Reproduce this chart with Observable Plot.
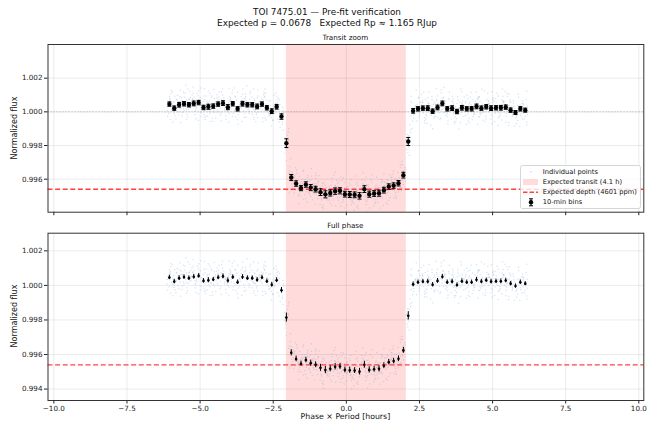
<!DOCTYPE html>
<html><head><meta charset="utf-8">
<script src="https://cdn.jsdelivr.net/npm/d3@7"></script>
<script src="https://cdn.jsdelivr.net/npm/@observablehq/plot@0.6"></script>
<style>
body{margin:0;background:#fff;}
#wrap{position:relative;width:654px;height:421px;overflow:hidden;background:#fff;}
#wrap > svg{position:absolute;left:0;}
</style></head><body><div id="wrap"></div>
<script>
// ---- data ----
const titleLine1 = "TOI 7475.01 — Pre-fit verification";
const titleLine2 = "Expected p = 0.0678   Expected Rp ≈ 1.165 RJup";
const panelTitles = ["Transit zoom", "Full phase"];
const yLabel = "Normalized flux";
const xLabel = "Phase × Period [hours]";
const legendLabels = ["Individual points", "Expected transit (4.1 h)", "Expected depth (4601 ppm)", "10-min bins"];

const transitStart = -2.05;   // hours
const transitEnd = 2.05;
const expectedDepthPpm = 4601;
const binWidthHours = 10 / 60;

const xTicks = [-10, -7.5, -5, -2.5, 0, 2.5, 5, 7.5, 10];
const yTicksTop = [0.996, 0.998, 1.000, 1.002];
const yTicksBottom = [0.994, 0.996, 0.998, 1.000, 1.002];

const binX = [-6.050, -5.883, -5.717, -5.550, -5.383, -5.217, -5.050, -4.883, -4.717, -4.550,
  -4.383, -4.217, -4.050, -3.883, -3.717, -3.550, -3.383, -3.217, -3.050, -2.883,
  -2.717, -2.550, -2.383, -2.217, -2.050, -1.883, -1.717, -1.550, -1.383, -1.217,
  -1.050, -0.883, -0.717, -0.550, -0.383, -0.217, -0.050, 0.117, 0.283, 0.450,
  0.617, 0.783, 0.950, 1.117, 1.283, 1.450, 1.617, 1.783, 1.950, 2.117,
  2.283, 2.450, 2.617, 2.783, 2.950, 3.117, 3.283, 3.450, 3.617, 3.783,
  3.950, 4.117, 4.283, 4.450, 4.617, 4.783, 4.950, 5.117, 5.283, 5.450,
  5.617, 5.783, 5.950, 6.117];
const binFlux = [1.00046, 1.00022, 1.00042, 1.00048, 1.00042, 1.00050, 1.00055, 1.00026, 1.00030, 1.00034,
  1.00046, 1.00052, 1.00028, 1.00048, 1.00018, 1.00048, 1.00042, 1.00042, 1.00032, 1.00046,
  1.00024, 1.00004, 1.00030, 0.99972, 0.99814, 0.99610, 0.99574, 0.99547, 0.99568, 0.99550,
  0.99541, 0.99523, 0.99510, 0.99518, 0.99529, 0.99531, 0.99511, 0.99509, 0.99507, 0.99501,
  0.99541, 0.99511, 0.99515, 0.99517, 0.99535, 0.99556, 0.99562, 0.99576, 0.99624, 0.99824,
  1.00006, 1.00018, 1.00022, 1.00022, 1.00004, 1.00026, 1.00050, 1.00018, 1.00022, 1.00002,
  1.00024, 1.00018, 1.00018, 1.00032, 1.00022, 1.00030, 1.00022, 1.00024, 1.00024, 1.00028,
  1.00010, 0.99996, 1.00018, 1.00010];
const binErr = [0.00013, 0.00013, 0.00014, 0.00013, 0.00013, 0.00014, 0.00013, 0.00013, 0.00015, 0.00013,
  0.00013, 0.00014, 0.00015, 0.00013, 0.00013, 0.00014, 0.00013, 0.00013, 0.00014, 0.00013,
  0.00013, 0.00014, 0.00014, 0.00016, 0.00026, 0.00018, 0.00016, 0.00015, 0.00016, 0.00018,
  0.00017, 0.00020, 0.00021, 0.00018, 0.00019, 0.00018, 0.00017, 0.00018, 0.00017, 0.00019,
  0.00020, 0.00018, 0.00017, 0.00018, 0.00017, 0.00016, 0.00016, 0.00016, 0.00017, 0.00024,
  0.00014, 0.00013, 0.00013, 0.00014, 0.00013, 0.00014, 0.00014, 0.00013, 0.00014, 0.00013,
  0.00014, 0.00013, 0.00013, 0.00014, 0.00013, 0.00013, 0.00014, 0.00013, 0.00014, 0.00013,
  0.00013, 0.00012, 0.00013, 0.00012];
// scatter of individual points about their bin (ppm) and their position inside the bin (fraction of bin)
const scatterResidualPpm = [-120, 340, -560, 810, 60, -290, 450, -730, 190, -40, 620, -380, 270, -910, 130, 520,
  -210, 980, -470, 30, 360, -650, 240, -150, 700, -330, 90, -820, 410, -20, 560, -240, 150, -1050, 300, -90,
  870, -430, 210, -600, 20, 480, -310, 680, -160, 110, -720, 390, -60, 1120, -520, 250, -380, 160, 640,
  -270, 70, -880, 330, -180, 940];
const scatterBinFraction = [-0.42, 0.13, -0.08, 0.37, -0.27, 0.45, 0.02, -0.35, 0.21, -0.15, 0.31, -0.48,
  0.09, 0.26, -0.22, 0.41, -0.02, -0.39, 0.17, 0.48, -0.11, 0.33, -0.30];
const pointsPerBin = 14;

// ---- build tables ----
const bins = binX.map((x, i) => ({x, y: binFlux[i], e: binErr[i]}));
const scatter = [];
binX.forEach((x, i) => {
  for (let k = 0; k < pointsPerBin; k++) {
    const j = i * pointsPerBin + k;
    scatter.push({
      x: x + scatterBinFraction[j % scatterBinFraction.length] * binWidthHours,
      y: binFlux[i] + scatterResidualPpm[j % scatterResidualPpm.length] * 1e-6
    });
  }
});
const depthFlux = 1 - expectedDepthPpm * 1e-6;
const transit = [{x1: transitStart, x2: transitEnd}];
const font = "DejaVu Sans, sans-serif";
const xDomain = [-10.2, 10.17];
const capHalf = 0.068;

function panel({height, marginTop, marginBottom, yDomain, yTicks, showXLabels, big, zeroLine}) {
  const marks = [
    Plot.ruleX(xTicks, {stroke: "#b0b0b0", strokeOpacity: 0.3, strokeWidth: 0.8}),
    Plot.ruleY(yTicks, {stroke: "#b0b0b0", strokeOpacity: 0.3, strokeWidth: 0.8}),
    Plot.rect(transit, {x1: "x1", x2: "x2", fill: "red", fillOpacity: 0.14}),
    Plot.dot(scatter, {x: "x", y: "y", r: 0.75, fill: "#6a9bd0", fillOpacity: 0.28, stroke: null, clip: true}),
    zeroLine ? Plot.ruleY([1], {stroke: "gray", strokeOpacity: 0.7, strokeWidth: 0.8, strokeDasharray: "1.2,1.8"}) : null,
    Plot.ruleY([depthFlux], {stroke: "#ff2020", strokeOpacity: 0.85, strokeWidth: 1.4, strokeDasharray: "5,2.6"}),
    Plot.ruleX(bins, {x: "x", y1: d => d.y - d.e, y2: d => d.y + d.e, stroke: "black", strokeWidth: 1}),
    big ? Plot.link(bins, {x1: d => d.x - capHalf, x2: d => d.x + capHalf, y1: d => d.y - d.e, y2: d => d.y - d.e, stroke: "black", strokeWidth: 1}) : null,
    big ? Plot.link(bins, {x1: d => d.x - capHalf, x2: d => d.x + capHalf, y1: d => d.y + d.e, y2: d => d.y + d.e, stroke: "black", strokeWidth: 1}) : null,
    Plot.dot(bins, {x: "x", y: "y", r: big ? 2.2 : 1.3, fill: "black", stroke: null}),
    Plot.frame({stroke: "#333", strokeWidth: 1})
  ].filter(Boolean);
  return Plot.plot({
    width: 654, height, marginTop, marginBottom, marginLeft: 47.5, marginRight: 10.7,
    style: {fontFamily: font, fontSize: "7.2px", color: "#222", background: "transparent", overflow: "visible"},
    x: {domain: xDomain, ticks: xTicks, tickFormat: showXLabels ? d3.format(".1f") : () => "", tickSize: 3.5, tickPadding: 2, label: null},
    y: {domain: yDomain, ticks: yTicks, tickFormat: d3.format(".3f"), tickSize: 3.5, tickPadding: 2, label: null},
    marks
  });
}

const wrap = document.getElementById("wrap");
const top1 = panel({height: 226, marginTop: 44, marginBottom: 14.3, yDomain: [0.99404, 1.0040], yTicks: yTicksTop, showXLabels: false, big: true, zeroLine: true});
top1.style.top = "0px";
wrap.appendChild(top1);
const bot = panel({height: 195, marginTop: 6.7, marginBottom: 21, yDomain: [0.99334, 1.00302], yTicks: yTicksBottom, showXLabels: true, big: false, zeroLine: false});
bot.style.top = "226px";
wrap.appendChild(bot);

// ---- overlay: titles, axis labels, legend ----
const ns = "http://www.w3.org/2000/svg";
const ov = document.createElementNS(ns, "svg");
ov.setAttribute("width", 654); ov.setAttribute("height", 421);
ov.style.top = "0px"; ov.style.pointerEvents = "none";
ov.setAttribute("font-family", font);
wrap.appendChild(ov);
function el(tag, attrs, text) {
  const e = document.createElementNS(ns, tag);
  for (const k in attrs) e.setAttribute(k, attrs[k]);
  if (text != null) e.textContent = text;
  ov.appendChild(e);
  return e;
}
const cx = 345.4;
el("text", {x: 327, y: 12, "font-size": 8.9, "text-anchor": "middle", "dominant-baseline": "central", fill: "#111"}, titleLine1);
el("text", {x: 327, y: 22.8, "font-size": 8.9, "text-anchor": "middle", "dominant-baseline": "central", fill: "#111"}, titleLine2).style.whiteSpace = "pre";
el("text", {x: cx, y: 37.5, "font-size": 7.2, "text-anchor": "middle", "dominant-baseline": "central", fill: "#111"}, panelTitles[0]);
el("text", {x: cx, y: 225.5, "font-size": 7.2, "text-anchor": "middle", "dominant-baseline": "central", fill: "#111"}, panelTitles[1]);
el("text", {transform: "translate(14.5,128) rotate(-90)", "font-size": 8, "text-anchor": "middle", "dominant-baseline": "central", fill: "#111"}, yLabel);
el("text", {transform: "translate(14.5,316) rotate(-90)", "font-size": 8, "text-anchor": "middle", "dominant-baseline": "central", fill: "#111"}, yLabel);
el("text", {x: cx, y: 416.3, "font-size": 7.8, "text-anchor": "middle", "dominant-baseline": "central", fill: "#111"}, xLabel);

// legend
el("rect", {x: 520.5, y: 165.5, width: 120, height: 43, rx: 2, fill: "white", "fill-opacity": 0.8, stroke: "#cccccc", "stroke-width": 0.8});
const rows = [171.7, 182, 192.2, 202.3];
const hx = 531, tx = 542.7;
el("circle", {cx: hx, cy: rows[0], r: 0.8, fill: "#6a9bd0", "fill-opacity": 0.45});
el("rect", {x: 523, y: rows[1] - 3, width: 15, height: 6, fill: "red", "fill-opacity": 0.14});
el("line", {x1: 523, x2: 538, y1: rows[2], y2: rows[2], stroke: "#ff2020", "stroke-opacity": 0.85, "stroke-width": 1.4, "stroke-dasharray": "4.5,2"});
el("line", {x1: hx, x2: hx, y1: rows[3] - 3.5, y2: rows[3] + 3.5, stroke: "black", "stroke-width": 1});
el("line", {x1: hx - 2, x2: hx + 2, y1: rows[3] - 3.5, y2: rows[3] - 3.5, stroke: "black", "stroke-width": 1});
el("line", {x1: hx - 2, x2: hx + 2, y1: rows[3] + 3.5, y2: rows[3] + 3.5, stroke: "black", "stroke-width": 1});
el("circle", {cx: hx, cy: rows[3], r: 2.2, fill: "black"});
legendLabels.forEach((t, i) => el("text", {x: tx, y: rows[i], "font-size": 6.7, "dominant-baseline": "central", fill: "#111"}, t));
</script></body></html>
